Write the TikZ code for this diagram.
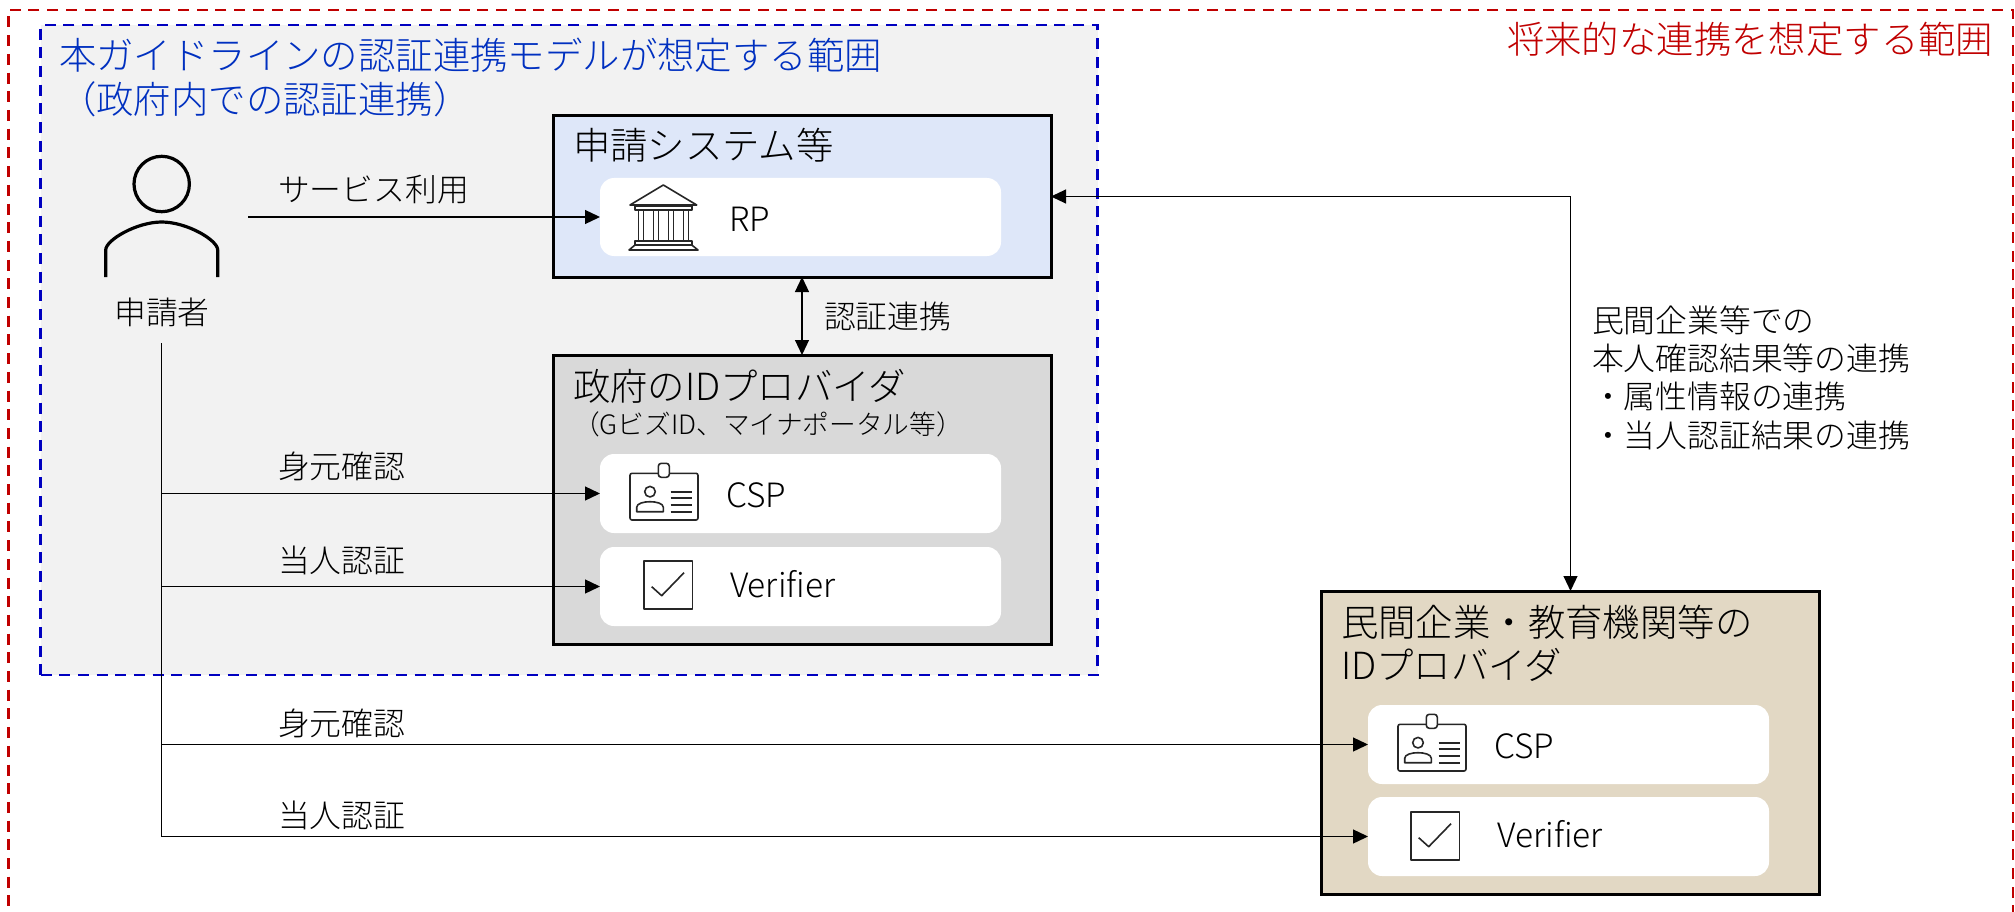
\documentclass[tikz,border=0pt]{standalone}
\usepackage{fontspec}
\setmainfont{Noto Sans CJK JP Light}
\usetikzlibrary{arrows.meta}
\definecolor{redc}{HTML}{C00000}
\definecolor{bluec}{HTML}{0000C0}
\definecolor{tblue}{HTML}{0030C0}
\definecolor{scope}{HTML}{F2F2F2}
\definecolor{rpfill}{HTML}{DEE7F9}
\definecolor{govfill}{HTML}{D9D9D9}
\definecolor{privfill}{HTML}{E2D8C4}
\tikzset{
  x=1pt,y=-1pt,
  big/.style={inner sep=0pt,outer sep=0pt,anchor=base west,font=\fontsize{37.4}{45}\selectfont},
  lab/.style={inner sep=0pt,outer sep=0pt,anchor=base west,font=\fontsize{31.8}{38.4}\selectfont},
  latn/.style={inner sep=0pt,outer sep=0pt,anchor=base west,font=\fontsize{33.5}{38.4}\selectfont},
  scopebox/.style={line width=2.7pt,dash pattern=on 11pt off 7.7pt,inner sep=0pt,outer sep=0pt},
  boxn/.style={draw=black,line width=3pt,inner sep=0pt,outer sep=0pt,minimum width=498pt},
  pill/.style={fill=white,rounded corners=14pt,inner sep=0pt,outer sep=0pt,minimum height=79pt},
  conn/.style={line width=1.3pt,draw=black,-{Triangle[length=15pt,width=14pt]}},
  conn2/.style={line width=1.2pt,draw=black,{Triangle[length=15pt,width=14pt]}-{Triangle[length=15pt,width=14pt]}},
  icon/.style={line width=1.6pt,draw=black!85,line join=round},
  pics/idcard/.style={code={
    \draw[icon,rounded corners=2pt] (0,0) rectangle (68,46.7);
    \draw[icon,fill=white,rounded corners=3pt] (28.3,-10) rectangle (39.3,4);
    \draw[icon] (20,18.4) circle (5.3);
    \draw[icon] (6.7,38.4) -- (33.3,38.4) -- (33.3,34) .. controls (33.3,30) and (26,28.4) .. (20,28.4) .. controls (14,28.4) and (6.7,30) .. (6.7,34) -- cycle;
    \draw[icon] (40.7,18.4) -- (61.7,18.4) (40.7,24.5) -- (61.7,24.5) (40.7,31.5) -- (61.7,31.5) (40.7,38.4) -- (61.7,38.4);
  }},
  pics/checkbox/.style={code={
    \draw[icon] (0,0) rectangle (48.3,48);
    \draw[icon] (7.7,25.7) -- (17.7,34.7) -- (40,11.7);
  }},
  pics/bank/.style={code={
    \draw[icon] (0,20) -- (33.3,0) -- (66.7,20) -- cycle;
    \draw[icon] (5,21) rectangle (61.7,25);
    \foreach \cx in {8.5,23.5,38.5,53.5} {\draw[icon] (\cx,25) rectangle ++(5,31);}
    \draw[icon] (5,56) rectangle (61.7,60);
    \draw[icon] (5,60) -- (-1,65) -- (68,65) -- (61.7,60);
  }},
  pics/person/.style={code={
    \draw[line width=3.2pt,draw=black] (0,0) circle (27.7);
    \draw[line width=3.2pt,draw=black] (-56,93) -- (-56,66) .. controls (-56,56) and (-25,38) .. (0,38) .. controls (25,38) and (56,56) .. (56,66) -- (56,93);
  }}
}
\begin{document}
\begin{tikzpicture}
\useasboundingbox (0,0) rectangle (2015,912);
% scopes
\node[scopebox,draw=redc,minimum width=2004.5pt,minimum height=940pt] (outer) at (1010.75,480) {};
\node[scopebox,draw=bluec,fill=scope,minimum width=1057pt,minimum height=650pt] (inner) at (569,350) {};
% boxes
\node[boxn,fill=rpfill,minimum height=161pt] (rp) at (802,196.5) {};
\node[boxn,fill=govfill,minimum height=289pt] (gov) at (802,499.5) {};
\node[boxn,fill=privfill,minimum width=498.5pt,minimum height=303pt] (priv) at (1570.5,742.5) {};
% pills
\node[pill,minimum width=401pt,minimum height=78pt] (rppill) at (800.5,217) {};
\node[pill,minimum width=401pt] (csp1) at (800.5,493.5) {};
\node[pill,minimum width=401pt] (ver1) at (800.5,586.5) {};
\node[pill,minimum width=401pt] (csp2) at (1568.5,744.5) {};
\node[pill,minimum width=401pt] (ver2) at (1568.5,836.5) {};
% texts
\node[big,text=tblue] (t1) at (59,70) {本ガイドラインの認証連携モデルが想定する範囲};
\node[big,text=tblue] (t2) at (59,114) {（政府内での認証連携）};
\node[big,text=redc] (t3) at (1507,54) {将来的な連携を想定する範囲};
\node[big] (t4) at (573,160) {申請システム等};
\node[big] (t5) at (573,400) {政府のIDプロバイダ};
\node[inner sep=0pt,anchor=base west,font=\fontsize{26.7}{30}\selectfont] (t6) at (573,434) {（GビズID、マイナポータル等）};
\node[big] (t7) at (1341,636) {民間企業・教育機関等の};
\node[big] (t8) at (1341,679) {IDプロバイダ};
\node[latn] (rpt) at (729,231) {RP};
\node[latn] (csp1t) at (726,507) {CSP};
\node[latn] (ver1t) at (730,597) {Verifier};
\node[latn] (csp2t) at (1494,758) {CSP};
\node[latn] (ver2t) at (1497.5,847) {Verifier};
\node[lab] (l1) at (278,201) {サービス利用};
\node[lab,anchor=base] (app) at (162,324) {申請者};
\node[lab] (l2) at (824,328) {認証連携};
\node[lab] (l3) at (278,478) {身元確認};
\node[lab] (l4) at (278,572) {当人認証};
\node[lab] (l5) at (278,735) {身元確認};
\node[lab] (l6) at (278,827) {当人認証};
\node[lab] (n1) at (1592,332) {民間企業等での};
\node[lab] (n2) at (1592,370) {本人確認結果等の連携};
\node[lab] (n3) at (1592,408.5) {・属性情報の連携};
\node[lab] (n4) at (1592,447) {・当人認証結果の連携};
% icons
\pic at (161.7,184) {person};
\pic at (630,185) {bank};
\pic at (630,473.3) {idcard};
\pic at (644,561) {checkbox};
\pic at (1398,724.3) {idcard};
\pic at (1411,812) {checkbox};
% connectors
\coordinate (svc) at (248,217);
\coordinate (trunk) at (161.5,343);
\draw[conn] (svc) -- (rppill.west);
\draw[conn2] (rp.south) -- (gov.north);
\draw[conn2] (rp.east) -| (priv.north);
\draw[conn] (trunk) |- (csp1.west);
\draw[conn] (trunk) |- (ver1.west);
\draw[conn] (trunk) |- (csp2.west);
\draw[conn] (trunk) |- (ver2.west);
\end{tikzpicture}
\end{document}
